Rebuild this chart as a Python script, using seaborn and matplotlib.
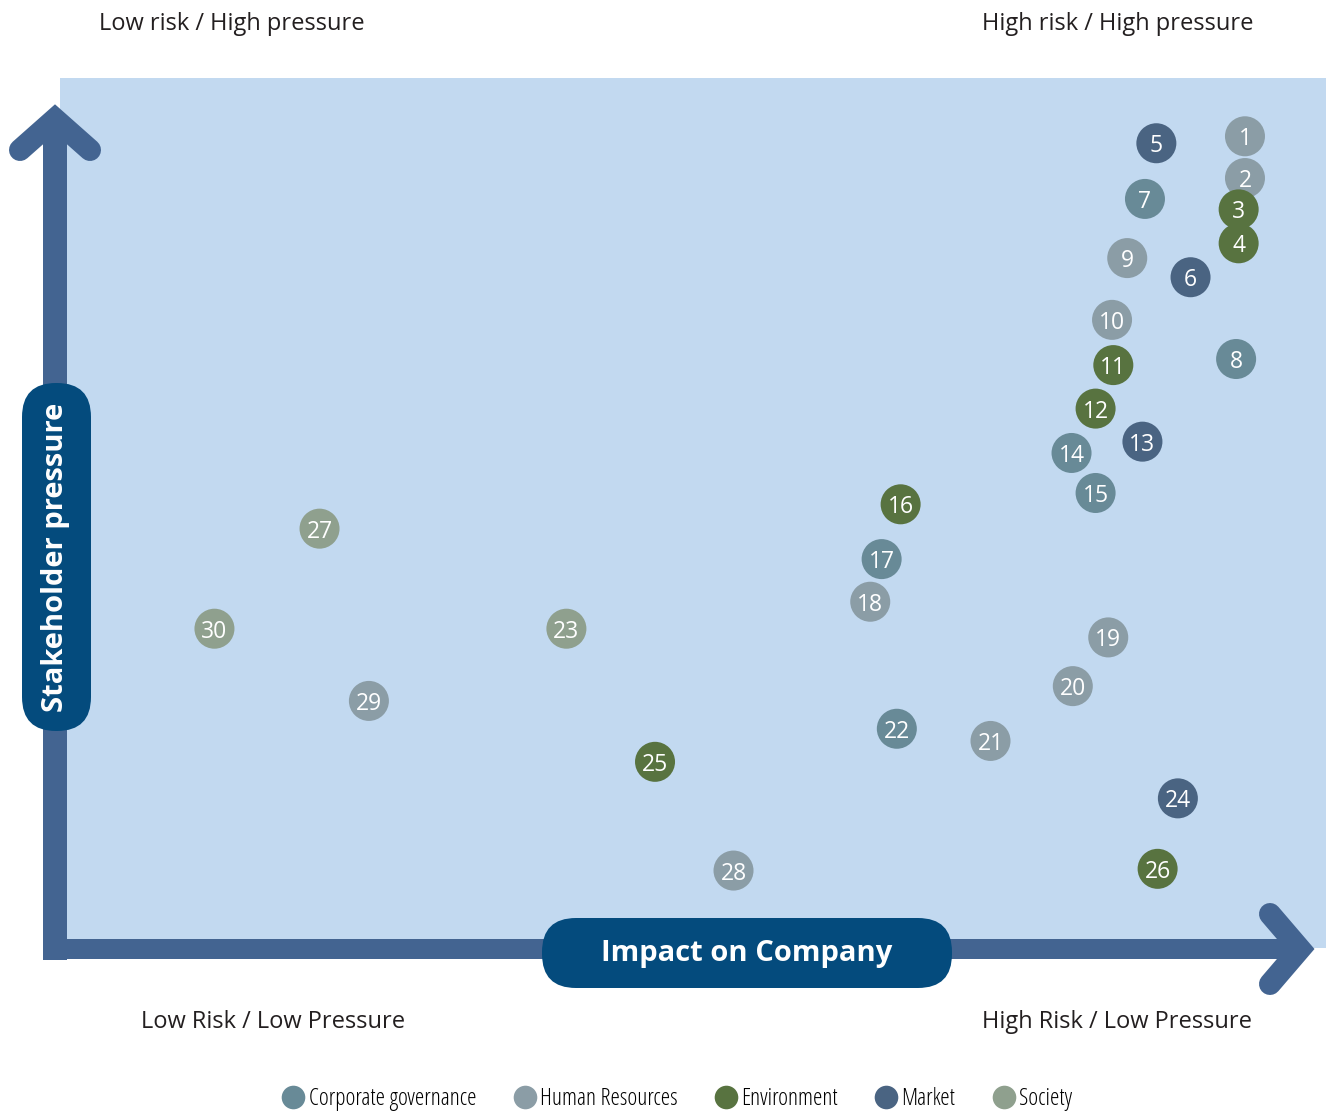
import pandas as pd
import matplotlib.pyplot as plt
import seaborn as sns
from matplotlib.patches import Rectangle, FancyBboxPatch

# materiality matrix: impact on company (x) vs stakeholder pressure (y), 0-100
issue = list(range(1, 31))
impact = [93.6, 93.6, 93.1, 93.1, 86.6, 89.3, 85.7, 92.9, 84.3, 83.1,
          83.2, 81.8, 85.5, 79.9, 81.8, 66.4, 64.9, 64.0, 82.8, 80.0,
          73.5, 66.1, 40.0, 88.3, 47.0, 86.7, 20.5, 53.2, 24.4, 12.2]
pressure = [93.3, 88.5, 84.9, 81.0, 92.5, 77.1, 86.1, 67.7, 79.3, 72.2,
            67.0, 62.0, 58.2, 56.9, 52.3, 51.0, 44.7, 39.8, 35.7, 30.1,
            23.8, 25.2, 36.7, 17.2, 21.4, 9.1, 48.2, 8.9, 28.4, 36.7]
category = ['Human Resources', 'Human Resources', 'Environment', 'Environment', 'Market',
            'Market', 'Corporate governance', 'Corporate governance', 'Human Resources', 'Human Resources',
            'Environment', 'Environment', 'Market', 'Corporate governance', 'Corporate governance',
            'Environment', 'Corporate governance', 'Human Resources', 'Human Resources', 'Human Resources',
            'Human Resources', 'Corporate governance', 'Society', 'Market', 'Environment',
            'Environment', 'Society', 'Human Resources', 'Human Resources', 'Society']

cat_order = ['Corporate governance', 'Human Resources', 'Environment', 'Market', 'Society']
cat_colors = ['#688a97', '#8b9da6', '#587340', '#4a6482', '#8fa08e']

corner_labels = ['Low risk / High pressure', 'High risk / High pressure',
                 'Low Risk / Low Pressure', 'High Risk / Low Pressure']

df = pd.DataFrame({'issue': issue, 'impact': impact, 'pressure': pressure, 'category': category})

sns.set_style('white')
plt.rcParams['font.family'] = ['Open Sans', 'DejaVu Sans']

W, H = 1326, 1114
fig = plt.figure(figsize=(W / 100, H / 100), dpi=100)

# background layer in pixel units
bg = fig.add_axes([0, 0, 1, 1], zorder=0)
bg.set_xlim(0, W)
bg.set_ylim(H, 0)
bg.axis('off')

arrow_col = '#436491'
box_col = '#044b7d'
text_col = '#231f20'

bg.add_patch(Rectangle((60, 78), 1266, 870, facecolor='#c2d9f0', edgecolor='none', zorder=0))

# axis arrows
px = 72 / 100  # points per pixel
bg.plot([55, 55], [960, 122], color=arrow_col, lw=24 * px, solid_capstyle='butt', zorder=2)
bg.plot([43, 1298], [949, 949], color=arrow_col, lw=20 * px, solid_capstyle='butt', zorder=2)
bg.plot([20, 55, 90], [150, 119, 150], color=arrow_col, lw=22 * px,
        solid_capstyle='round', solid_joinstyle='miter', zorder=2)
bg.plot([1270, 1300, 1270], [914, 949, 984], color=arrow_col, lw=22 * px,
        solid_capstyle='round', solid_joinstyle='miter', zorder=2)

# axis title boxes
hbox = FancyBboxPatch((542 + 34, 918 + 34), 410 - 68, 2, boxstyle='round,pad=34,rounding_size=34',
                      facecolor=box_col, edgecolor='none', zorder=3)
vbox = FancyBboxPatch((22 + 34, 383 + 34), 1, 348 - 68, boxstyle='round,pad=34,rounding_size=34',
                      facecolor=box_col, edgecolor='none', zorder=3)
bg.add_patch(hbox)
bg.add_patch(vbox)

bg.text(747, 953, 'Impact on Company', color='white', fontsize=21, fontweight='bold',
        ha='center', va='center', zorder=4)
bg.text(56, 557, 'Stakeholder pressure', color='white', fontsize=21, fontweight='bold',
        ha='center', va='center', rotation=90, zorder=4)

# quadrant labels
bg.text(99, 24, corner_labels[0], fontsize=17, color=text_col, ha='left', va='center')
bg.text(1254, 24, corner_labels[1], fontsize=17, color=text_col, ha='right', va='center')
bg.text(141, 1022, corner_labels[2], fontsize=17, color=text_col, ha='left', va='center')
bg.text(1252, 1022, corner_labels[3], fontsize=17, color=text_col, ha='right', va='center')

# scatter layer over the blue area
ax = fig.add_axes([60 / W, (H - 948) / H, 1266 / W, 870 / H], zorder=1)
ax.patch.set_alpha(0)
sns.scatterplot(data=df, x='impact', y='pressure', hue='category', hue_order=cat_order,
                palette=dict(zip(cat_order, cat_colors)), s=830, linewidth=0, ax=ax, legend=True)
ax.set_xlim(0, 100)
ax.set_ylim(0, 100)
ax.axis('off')

for _, r in df.iterrows():
    ax.text(r['impact'], r['pressure'], str(r['issue']), color='white', fontsize=16.5,
            ha='center', va='center_baseline', zorder=5)

sns.move_legend(ax, 'center', bbox_to_anchor=(671 / W, 1 - 1099 / H), bbox_transform=fig.transFigure,
                ncol=5, frameon=False, title=None, handletextpad=-0.35, columnspacing=1.05,
                prop={'family': ['Liberation Sans Narrow', 'DejaVu Sans Condensed', 'Open Sans'],
                      'size': 17, 'stretch': 'condensed', 'weight': 'medium'})
leg = ax.get_legend()
for h in leg.legend_handles:
    if hasattr(h, 'set_markersize'):
        h.set_markersize(17)
    else:
        h.set_sizes([300])
for t in leg.get_texts():
    t.set_color('#000000')

fig.savefig('out.png', dpi=100)
